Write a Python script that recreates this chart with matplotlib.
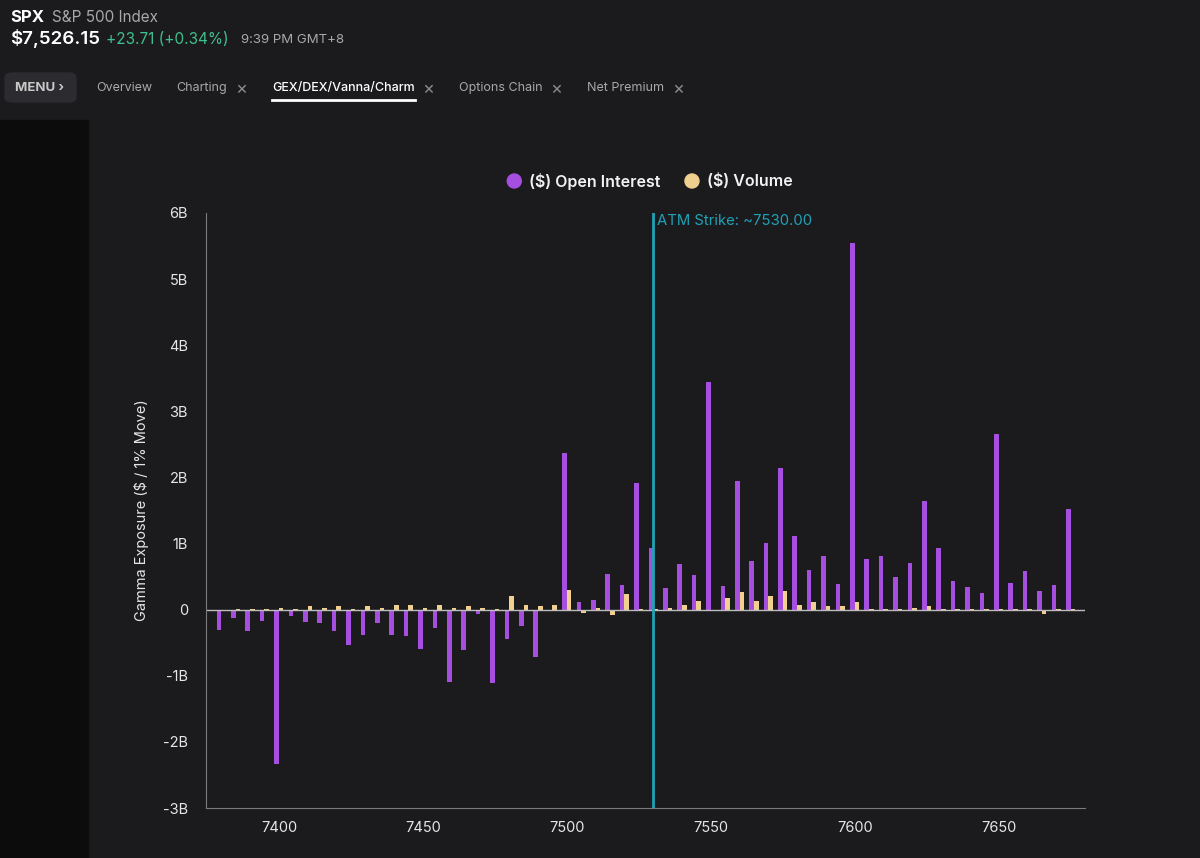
import numpy as np
import matplotlib.pyplot as plt
from matplotlib.patches import FancyBboxPatch

plt.rcParams['font.family'] = ['Inter', 'DejaVu Sans']

# strikes and gamma exposure (billions of $ per 1% move)
strikes = np.arange(7380, 7680, 5)
open_interest = [
    -0.30, -0.13, -0.32, -0.17, -2.33, -0.10, -0.19, -0.20, -0.32, -0.53,
    -0.38, -0.20, -0.38, -0.40, -0.60, -0.28, -1.10, -0.61, -0.07, -1.11,
    -0.45, -0.24, -0.71, 0.00, 2.37, 0.11, 0.15, 0.54, 0.37, 1.91,
    0.93, 0.33, 0.69, 0.52, 3.44, 0.36, 1.95, 0.74, 1.01, 2.15,
    1.12, 0.60, 0.81, 0.39, 5.55, 0.77, 0.81, 0.49, 0.70, 1.65,
    0.94, 0.43, 0.34, 0.25, 2.66, 0.41, 0.58, 0.28, 0.37, 1.52,
]
volume = [
    0.00, 0.01, 0.01, 0.01, 0.03, 0.01, 0.05, 0.03, 0.05, 0.01,
    0.05, 0.03, 0.07, 0.07, 0.03, 0.07, 0.03, 0.05, 0.03, 0.01,
    0.20, 0.07, 0.05, 0.07, 0.29, -0.05, 0.03, -0.08, 0.24, 0.01,
    0.01, 0.03, 0.07, 0.13, -0.01, 0.18, 0.26, 0.13, 0.20, 0.28,
    0.07, 0.11, 0.05, 0.05, 0.11, 0.01, 0.01, 0.01, 0.03, 0.06,
    0.01, 0.01, 0.01, 0.01, 0.01, 0.01, 0.01, -0.06, 0.01, 0.01,
]
atm_strike = 7530
y_ticks = [-3, -2, -1, 0, 1, 2, 3, 4, 5, 6]
y_labels = ['-3B', '-2B', '-1B', '0', '1B', '2B', '3B', '4B', '5B', '6B']

bg = '#1b1b1e'
purple = '#a64ee0'
cream = '#f1d08f'
teal = '#1fa2b6'

fig = plt.figure(figsize=(12, 8.58), dpi=100, facecolor=bg)

# darker left strip
fig.patches.append(plt.Rectangle((0, 0), 88 / 1200, 738 / 858, transform=fig.transFigure,
                                 color='#0c0c0d', zorder=0))

ax = fig.add_axes([206 / 1200, 50 / 858, 879 / 1200, 595 / 858])
ax.set_facecolor(bg)
w = 1.6
ax.bar(strikes - w / 2, open_interest, width=w, color=purple, label='($) Open Interest')
ax.bar(strikes + w / 2, volume, width=w, color=cream, label='($) Volume')
ax.axhline(0, color='#bdbdbd', lw=1, zorder=1)
ax.axvline(atm_strike, color=teal, lw=2, zorder=3)
ax.text(atm_strike + 1.3, 5.88, 'ATM Strike: ~7530.00', color=teal, fontsize=10.7, va='center')

ax.set_xlim(7374.7, 7680)
ax.set_ylim(-3, 6)
ax.set_yticks(y_ticks)
ax.set_yticklabels(y_labels)
ax.set_xticks([7400, 7450, 7500, 7550, 7600, 7650])
ax.tick_params(axis='both', colors='#e6e6e6', labelsize=10.5, length=0)
ax.tick_params(axis='y', pad=13)
ax.tick_params(axis='x', pad=9)
for s in ['top', 'right']:
    ax.spines[s].set_visible(False)
for s in ['left', 'bottom']:
    ax.spines[s].set_color('#7a7a7a')
ax.set_ylabel('Gamma Exposure ($ / 1% Move)', color='#e6e6e6', fontsize=10.5, labelpad=10)

leg = fig.legend(loc='center', bbox_to_anchor=(650 / 1200, 1 - 181 / 858), ncol=2,
                 frameon=False, handlelength=0.9, handleheight=0.9, columnspacing=1.5,
                 handletextpad=0.5, fontsize=11.5)
for t in leg.get_texts():
    t.set_color('#f2f2f2')
    t.set_fontweight('semibold')
for h in leg.legend_handles:
    h.set_visible(False)
fig.canvas.draw()
# round legend markers
for h, c in zip(leg.legend_handles, [purple, cream]):
    bb = h.get_window_extent()
    fig.patches.append(plt.Circle(((bb.x0 + bb.x1) / 2, (bb.y0 + bb.y1) / 2), 7,
                                  transform=None, color=c))

# header
fig.text(10 / 1200, 1 - 17 / 858, 'SPX', color='white', fontsize=12, fontweight='bold', va='center')
fig.text(52 / 1200, 1 - 17 / 858, 'S&P 500 Index', color='#a8a8a8', fontsize=11, va='center')
fig.text(10 / 1200, 1 - 39 / 858, '$7,526.15', color='white', fontsize=13.5, fontweight='semibold', va='center')
fig.text(106 / 1200, 1 - 39 / 858, '+23.71 (+0.34%)', color='#3fbf8c', fontsize=11, va='center')
fig.text(241 / 1200, 1 - 40 / 858, '9:39 PM GMT+8', color='#a8a8a8', fontsize=9.5, va='center')

fig.patches.append(FancyBboxPatch((5 / 1200, 1 - 102 / 858), 71 / 1200, 29 / 858,
                                  boxstyle='round,pad=0,rounding_size=0.006',
                                  transform=fig.transFigure, color='#2c2c30'))
fig.text(15 / 1200, 1 - 88 / 858, 'MENU ›', color='#c8c8c8', fontsize=9.5, fontweight='bold', va='center')
tabs = [('Overview', 96, False, False), ('Charting', 176, True, False),
        ('GEX/DEX/Vanna/Charm', 272, True, True), ('Options Chain', 459, True, False),
        ('Net Premium', 587, True, False)]
renderer = fig.canvas.get_renderer()
for name, x, closable, active in tabs:
    t = fig.text(x / 1200, 1 - 88 / 858, name, color='white' if active else '#a8a8a8',
                 fontsize=9, va='center', fontweight='medium' if active else 'normal')
    bb = t.get_window_extent(renderer=renderer)
    if closable:
        fig.text((bb.x1 + 8) / 1200, 1 - 89 / 858, '×', color='#8a8a8a', fontsize=13, va='center')
    if active:
        fig.lines.append(plt.Line2D([bb.x0 / 1200, bb.x1 / 1200], [1 - 100 / 858] * 2,
                                    transform=fig.transFigure, color='white', lw=2))

fig.savefig('out.png', facecolor=bg)
